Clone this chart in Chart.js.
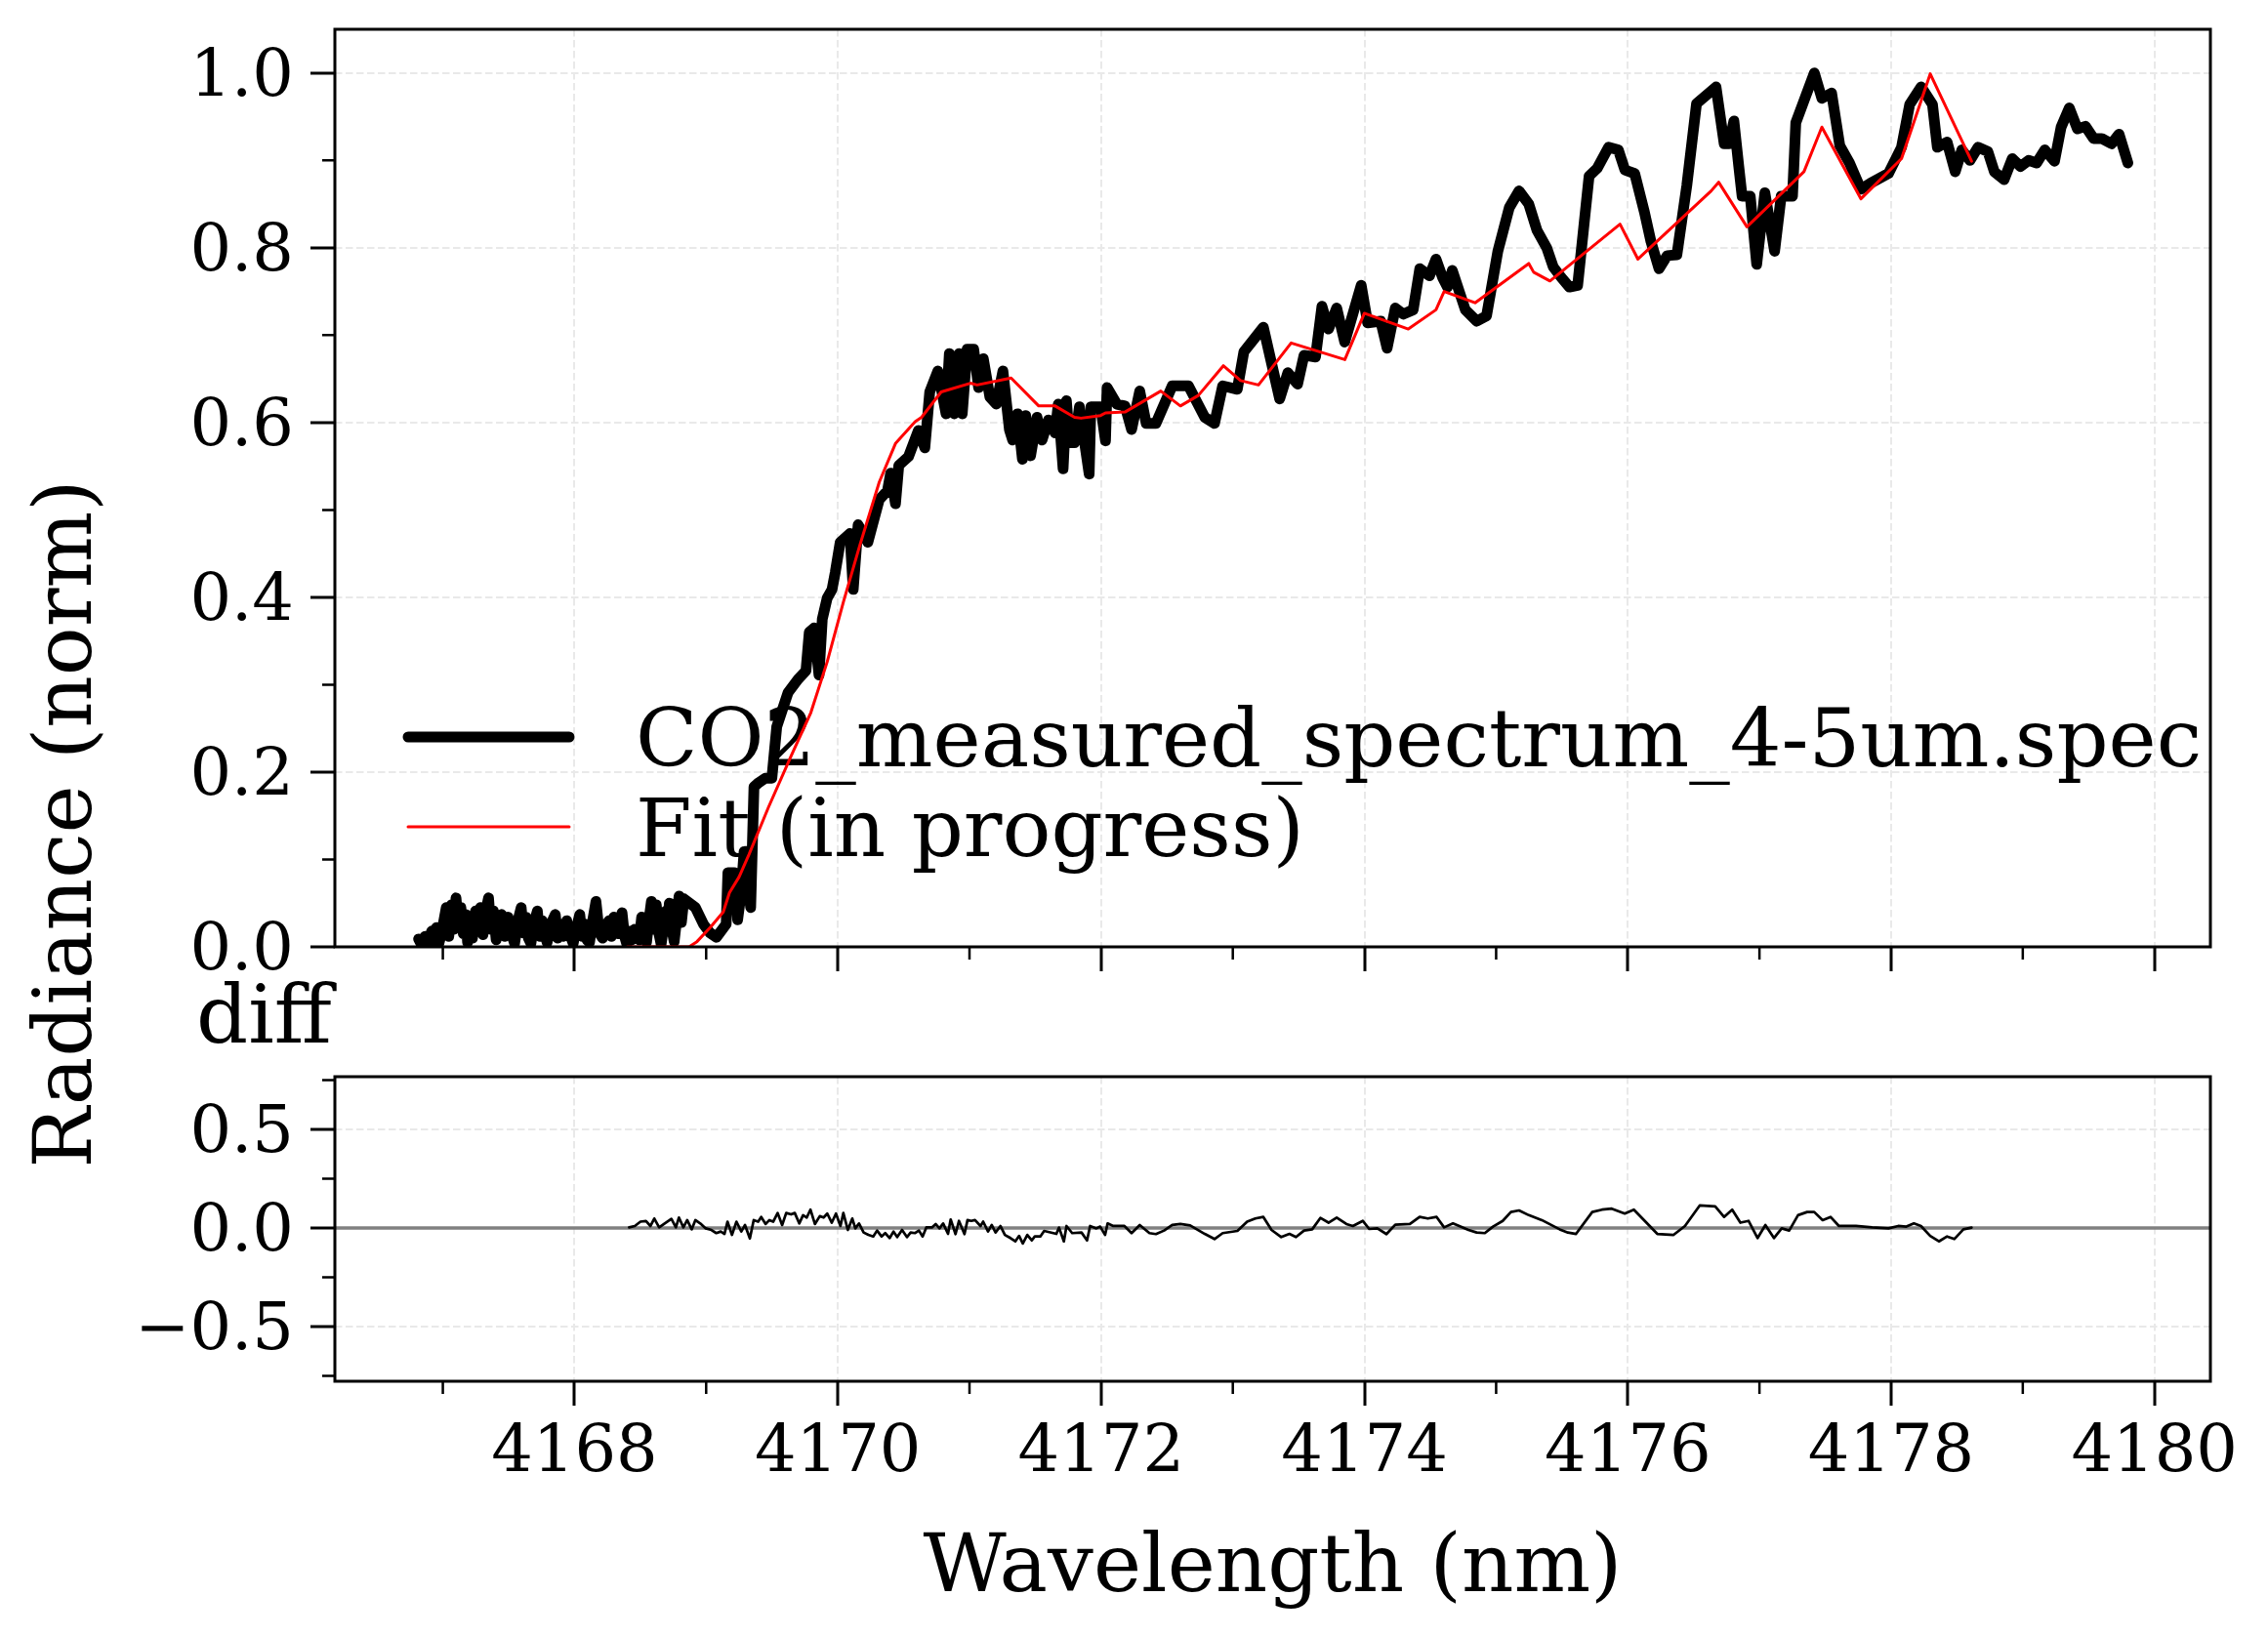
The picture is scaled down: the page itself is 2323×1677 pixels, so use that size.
<!DOCTYPE html>
<html>
<head>
<meta charset="utf-8">
<script src="https://cdn.jsdelivr.net/npm/chart.js@4.4.1/dist/chart.umd.min.js"></script>
<style>
    html, body { margin: 0; padding: 0; background: #fff; }
    #wrap { position: relative; width: 2323px; height: 1677px; }
    #wrap canvas { position: absolute; left: 0; top: 0; }
</style>
</head>
<body>
<div id="wrap">
    <canvas id="mainChart" width="2323" height="1677"></canvas>
    <canvas id="diffChart" width="2323" height="1677"></canvas>
</div>
<script>
const FONT = 'DejaVu Serif';

// measured spectrum (nm, normalised radiance)
const measuredWl = [
    4166.816, 4166.840, 4166.865, 4166.890, 4166.915, 4166.935, 4166.952, 4166.970, 4166.989, 4167.008,
    4167.026, 4167.045, 4167.065, 4167.083, 4167.100, 4167.118, 4167.137, 4167.155, 4167.174, 4167.188,
    4167.205, 4167.225, 4167.248, 4167.265, 4167.285, 4167.305, 4167.325, 4167.347, 4167.365, 4167.384,
    4167.405, 4167.425, 4167.446, 4167.470, 4167.496, 4167.520, 4167.545, 4167.570, 4167.595, 4167.612,
    4167.632, 4167.650, 4167.669, 4167.693, 4167.718, 4167.737, 4167.755, 4167.775, 4167.792, 4167.820,
    4167.854, 4167.872, 4167.891, 4167.915, 4167.941, 4167.965, 4167.990, 4168.015, 4168.040, 4168.058,
    4168.077, 4168.095, 4168.114, 4168.138, 4168.163, 4168.188, 4168.213, 4168.238, 4168.262, 4168.280,
    4168.299, 4168.330, 4168.361, 4168.380, 4168.398, 4168.418, 4168.435, 4168.455, 4168.473, 4168.492,
    4168.510, 4168.528, 4168.547, 4168.565, 4168.584, 4168.602, 4168.621, 4168.640, 4168.658, 4168.676,
    4168.695, 4168.708, 4168.720, 4168.740, 4168.757, 4168.775, 4168.794, 4168.812,
    4168.831, 4168.918, 4168.979, 4169.029, 4169.078, 4169.152, 4169.165, 4169.214, 4169.239, 4169.264,
    4169.288, 4169.338, 4169.363, 4169.400, 4169.449, 4169.499, 4169.536, 4169.622, 4169.697, 4169.758,
    4169.783, 4169.820, 4169.857, 4169.882, 4169.919, 4169.956, 4169.981, 4170.018, 4170.092, 4170.117,
    4170.154, 4170.228, 4170.315, 4170.377, 4170.401, 4170.438, 4170.463, 4170.537, 4170.612, 4170.661,
    4170.698, 4170.760, 4170.822, 4170.847, 4170.884, 4170.921, 4170.945, 4170.982, 4171.032, 4171.069,
    4171.105, 4171.155, 4171.204, 4171.254, 4171.303, 4171.328, 4171.365, 4171.402, 4171.427, 4171.464,
    4171.513, 4171.551, 4171.600, 4171.650, 4171.674, 4171.711, 4171.736, 4171.761, 4171.798, 4171.835,
    4171.909, 4171.922, 4171.996, 4172.033, 4172.045, 4172.119, 4172.181, 4172.231, 4172.293, 4172.342,
    4172.416, 4172.540, 4172.663, 4172.787, 4172.861, 4172.923, 4173.034, 4173.084, 4173.232, 4173.356,
    4173.418, 4173.492, 4173.541, 4173.628, 4173.677, 4173.727, 4173.789, 4173.850, 4173.975, 4174.024,
    4174.123, 4174.172, 4174.234, 4174.296, 4174.370,
    4174.420, 4174.494, 4174.543, 4174.593, 4174.630, 4174.667, 4174.766, 4174.853, 4174.927, 4175.013,
    4175.100, 4175.174, 4175.248, 4175.310, 4175.384, 4175.434, 4175.495, 4175.557, 4175.619, 4175.706,
    4175.768, 4175.854, 4175.928, 4175.978, 4176.052, 4176.126, 4176.176, 4176.237, 4176.299, 4176.373,
    4176.448, 4176.522, 4176.670, 4176.732, 4176.769, 4176.806, 4176.843, 4176.868, 4176.930, 4176.979,
    4177.041, 4177.115, 4177.165, 4177.251, 4177.276, 4177.350, 4177.417, 4177.474, 4177.548, 4177.610,
    4177.684,
    4177.770, 4177.844, 4177.980, 4178.079, 4178.141, 4178.228, 4178.314, 4178.351, 4178.425, 4178.487,
    4178.537, 4178.599, 4178.660, 4178.735, 4178.784, 4178.858, 4178.920, 4178.982, 4179.044, 4179.105,
    4179.167, 4179.241, 4179.291, 4179.353, 4179.415, 4179.476, 4179.538, 4179.600, 4179.674, 4179.731,
    4179.798
];
const measuredVal = [
    0.009, 0.002, 0.012, 0.003, 0.018, 0.006, 0.022, 0.004, 0.015, 0.030,
    0.045, 0.012, 0.048, 0.020, 0.056, 0.025, 0.045, 0.015, 0.037, 0.005,
    0.030, 0.010, 0.041, 0.018, 0.045, 0.014, 0.040, 0.056, 0.020, 0.041,
    0.008, 0.030, 0.037, 0.012, 0.034, 0.015, 0.004, 0.030, 0.045, 0.016,
    0.034, 0.010, 0.004, 0.028, 0.041, 0.012, 0.030, 0.014, 0.005, 0.026,
    0.037, 0.010, 0.026, 0.012, 0.030, 0.014, 0.004, 0.022, 0.037, 0.012,
    0.026, 0.008, 0.005, 0.030, 0.052, 0.016, 0.010, 0.025, 0.030, 0.012,
    0.034, 0.015, 0.039, 0.012, 0.003, 0.018, 0.008, 0.020, 0.015, 0.008,
    0.034, 0.012, 0.005, 0.030, 0.052, 0.020, 0.048, 0.016, 0.003, 0.022,
    0.041, 0.018, 0.050, 0.020, 0.006, 0.030, 0.058, 0.028,
    0.055, 0.045, 0.026, 0.016, 0.011, 0.026, 0.085, 0.085, 0.031, 0.060,
    0.109, 0.045, 0.183, 0.188, 0.193, 0.193, 0.252, 0.291, 0.306, 0.316,
    0.360, 0.365, 0.311, 0.375, 0.399, 0.409, 0.429, 0.463, 0.473, 0.409,
    0.483, 0.463, 0.512, 0.522, 0.542, 0.507, 0.551, 0.561, 0.591, 0.571,
    0.635, 0.659, 0.610, 0.679, 0.610, 0.679, 0.610, 0.684, 0.684, 0.640,
    0.673, 0.629, 0.621, 0.659, 0.592, 0.580, 0.610, 0.558, 0.608, 0.562,
    0.606, 0.580, 0.603, 0.588, 0.621, 0.547, 0.625, 0.577, 0.577, 0.618,
    0.541, 0.618, 0.618, 0.579, 0.640, 0.621, 0.619, 0.592, 0.636, 0.599,
    0.599, 0.642, 0.642, 0.606, 0.599, 0.642, 0.638, 0.681, 0.709, 0.627,
    0.657, 0.644, 0.677, 0.675, 0.733, 0.707, 0.731, 0.692, 0.757, 0.714,
    0.716, 0.685, 0.731, 0.724, 0.729,
    0.776, 0.768, 0.787, 0.766, 0.755, 0.774, 0.729, 0.716, 0.722, 0.796,
    0.846, 0.865, 0.850, 0.820, 0.800, 0.778, 0.766, 0.755, 0.757, 0.882,
    0.891, 0.915, 0.912, 0.889, 0.885, 0.841, 0.807, 0.776, 0.791, 0.792,
    0.871, 0.965, 0.984, 0.919, 0.919, 0.945, 0.893, 0.859, 0.859, 0.781,
    0.863, 0.796, 0.859, 0.859, 0.943, 0.973, 1.000, 0.971, 0.977, 0.917,
    0.897,
    0.867, 0.874, 0.885, 0.915, 0.964, 0.984, 0.964, 0.915, 0.921, 0.887,
    0.912, 0.900, 0.915, 0.910, 0.887, 0.878, 0.902, 0.893, 0.900, 0.897,
    0.912, 0.899, 0.938, 0.960, 0.936, 0.939, 0.925, 0.925, 0.919, 0.930,
    0.897
];

// fit curve
const fitWl = [
    4168.400, 4168.870, 4168.930, 4169.030, 4169.130, 4169.177, 4169.250, 4169.326, 4169.474, 4169.647,
    4169.795, 4169.919, 4170.043, 4170.166, 4170.315, 4170.438, 4170.587, 4170.636, 4170.785, 4171.007,
    4171.057, 4171.316, 4171.526, 4171.650, 4171.798, 4171.847, 4171.996, 4172.033, 4172.181, 4172.453,
    4172.602, 4172.738, 4172.928, 4173.059, 4173.195, 4173.443, 4173.851, 4173.999, 4174.333, 4174.543,
    4174.605, 4174.840, 4175.248, 4175.285, 4175.409, 4175.941, 4176.077, 4176.633, 4176.690, 4176.905,
    4177.338, 4177.474, 4177.771, 4178.079, 4178.297, 4178.611
];
const fitVal = [
    0.000, 0.000, 0.006, 0.022, 0.040, 0.062, 0.080, 0.106, 0.160, 0.219,
    0.268, 0.326, 0.395, 0.459, 0.532, 0.576, 0.601, 0.606, 0.635, 0.645,
    0.643, 0.651, 0.619, 0.619, 0.606, 0.605, 0.608, 0.611, 0.612, 0.636,
    0.619, 0.631, 0.665, 0.648, 0.643, 0.691, 0.672, 0.725, 0.707, 0.729,
    0.750, 0.737, 0.782, 0.772, 0.762, 0.827, 0.787, 0.865, 0.875, 0.824,
    0.887, 0.938, 0.856, 0.902, 0.999, 0.899
];

// residual (measured - fit)
const diffWl = [
    4168.415, 4168.458, 4168.501, 4168.543, 4168.577, 4168.606, 4168.643, 4168.685, 4168.736, 4168.770,
    4168.793, 4168.827, 4168.856, 4168.890, 4168.918, 4168.955, 4168.997, 4169.040, 4169.077, 4169.111,
    4169.139, 4169.162, 4169.196, 4169.230, 4169.267, 4169.295, 4169.332, 4169.361, 4169.395, 4169.418,
    4169.452, 4169.480, 4169.509, 4169.543, 4169.577, 4169.608, 4169.645, 4169.673, 4169.707, 4169.736,
    4169.764, 4169.792, 4169.826, 4169.863, 4169.892, 4169.920, 4169.954, 4169.986, 4170.020, 4170.042,
    4170.076, 4170.110, 4170.133, 4170.161, 4170.196, 4170.232, 4170.269, 4170.298, 4170.332, 4170.360,
    4170.394, 4170.423, 4170.451, 4170.488, 4170.525, 4170.553, 4170.587, 4170.616, 4170.644, 4170.672,
    4170.715, 4170.743, 4170.772, 4170.800, 4170.837, 4170.857, 4170.894, 4170.920, 4170.962, 4170.985,
    4171.013, 4171.042, 4171.084, 4171.104, 4171.141, 4171.169, 4171.198, 4171.235, 4171.269, 4171.311,
    4171.348, 4171.377, 4171.405, 4171.439, 4171.473, 4171.496, 4171.538, 4171.567, 4171.660, 4171.680,
    4171.717, 4171.737, 4171.780, 4171.851, 4171.893, 4171.916, 4171.964, 4171.993, 4172.030, 4172.049,
    4172.092, 4172.177,
    4172.231, 4172.293, 4172.367, 4172.416, 4172.478, 4172.540, 4172.602, 4172.676, 4172.787, 4172.861,
    4172.923, 4173.035, 4173.109, 4173.171, 4173.232, 4173.294, 4173.368, 4173.430, 4173.480, 4173.541,
    4173.603, 4173.665, 4173.727, 4173.789, 4173.863, 4173.912, 4173.987, 4174.036, 4174.098, 4174.167,
    4174.234, 4174.345, 4174.419, 4174.481, 4174.548, 4174.605, 4174.672, 4174.790, 4174.852, 4174.914,
    4174.976, 4175.050, 4175.112, 4175.174, 4175.248, 4175.347, 4175.483, 4175.545, 4175.607, 4175.730,
    4175.804, 4175.878,
    4175.977, 4176.046, 4176.224, 4176.348, 4176.434, 4176.546, 4176.664, 4176.731, 4176.793, 4176.855,
    4176.917, 4176.986, 4177.045, 4177.110, 4177.169, 4177.226, 4177.293, 4177.362, 4177.416, 4177.480,
    4177.540, 4177.604, 4177.733, 4177.856, 4177.980, 4178.054, 4178.116, 4178.173, 4178.227, 4178.297,
    4178.363, 4178.425, 4178.480, 4178.549, 4178.611
];
const diffVal = [
    0.003, 0.010, 0.032, 0.035, 0.010, 0.048, 0.003, 0.023, 0.046, 0.003,
    0.053, 0.003, 0.040, -0.007, 0.040, 0.023, -0.002, -0.010, -0.026, -0.018,
    -0.030, 0.032, -0.035, 0.032, -0.018, 0.015, -0.053, 0.040, 0.032, 0.056,
    0.020, 0.040, 0.032, 0.076, 0.015, 0.076, 0.069, 0.076, 0.023, 0.065,
    0.053, 0.093, 0.020, 0.060, 0.053, 0.073, 0.027, 0.073, 0.010, 0.076,
    -0.010, 0.048, -0.002, 0.023, -0.023, -0.035, -0.043, -0.013, -0.043, -0.026,
    -0.051, -0.018, -0.046, -0.010, -0.046, -0.023, -0.026, -0.013, -0.043, 0.003,
    0.003, 0.020, -0.002, 0.023, -0.030, 0.043, -0.031, 0.036, -0.031, 0.040,
    0.036, 0.040, 0.010, 0.032, -0.018, 0.015, -0.023, 0.010, -0.035, -0.051,
    -0.068, -0.040, -0.079, -0.035, -0.063, -0.043, -0.043, -0.015, -0.030, 0.002,
    -0.068, 0.010, -0.026, -0.023, -0.063, 0.010, -0.002, 0.007, -0.035, 0.023,
    0.010, 0.010,
    -0.026, 0.015, -0.026, -0.031, -0.013, 0.015, 0.020, 0.013, -0.030, -0.056,
    -0.026, -0.015, 0.032, 0.048, 0.056, -0.010, -0.046, -0.030, -0.046, -0.013,
    -0.007, 0.051, 0.027, 0.053, 0.020, 0.010, 0.036, -0.005, -0.002, -0.031,
    0.017, 0.020, 0.056, 0.048, 0.056, 0.003, 0.023, -0.010, -0.023, -0.026,
    0.007, 0.036, 0.081, 0.089, 0.065, 0.040, -0.007, -0.023, -0.030, 0.081,
    0.093, 0.098,
    0.073, 0.093, -0.030, -0.035, 0.010, 0.114, 0.109, 0.056, 0.093, 0.027,
    0.036, -0.051, 0.015, -0.051, -0.002, -0.013, 0.065, 0.081, 0.081, 0.040,
    0.056, 0.010, 0.010, 0.003, -0.002, 0.010, 0.007, 0.023, 0.010, -0.040,
    -0.068, -0.043, -0.056, -0.007, 0.002
];

// axes
const X_MIN = 4166.18;
const X_MAX = 4180.425;
const xMajor = [4168, 4170, 4172, 4174, 4176, 4178, 4180];
const xMinor = [4167, 4169, 4171, 4173, 4175, 4177, 4179];
const mainYMajor = [0, 0.2, 0.4, 0.6, 0.8, 1.0];
const mainYMinor = [0.1, 0.3, 0.5, 0.7, 0.9];
const diffYMajor = [-0.5, 0, 0.5];
const diffYMinor = [-0.75, -0.25, 0.25, 0.75];

const GRID = '#e9e9e9';
const TICK_FONT = { family: FONT, size: 67 };
const BIG = 83;

function toPoints(xs, ys) {
    return xs.map((x, i) => ({ x: x, y: ys[i] }));
}

function gridOpts() {
    return { color: GRID, lineWidth: 2, tickColor: '#000', tickWidth: 3, tickLength: 25 };
}

function xScale(showLabels, height) {
    return {
        type: 'linear',
        min: X_MIN,
        max: X_MAX,
        bounds: 'data',
        afterBuildTicks: s => { s.ticks = xMajor.map(v => ({ value: v })); },
        afterFit: s => { s.height = height; s.paddingLeft = 0; s.paddingRight = 0; },
        grid: gridOpts(),
        border: { display: false, dash: [7.5, 3.5] },
        ticks: {
            display: showLabels,
            autoSkip: false,
            maxRotation: 0,
            padding: 9,
            color: '#000',
            font: TICK_FONT,
            callback: v => String(v)
        }
    };
}

function yScale(min, max, major, fmt) {
    return {
        type: 'linear',
        min: min,
        max: max,
        bounds: 'data',
        afterBuildTicks: s => { s.ticks = major.map(v => ({ value: v })); },
        afterFit: s => { s.width = 343; s.paddingTop = 0; s.paddingBottom = 0; },
        grid: gridOpts(),
        border: { display: false, dash: [7.5, 3.5] },
        ticks: {
            padding: 17,
            labelOffset: 6,
            color: '#000',
            font: TICK_FONT,
            callback: fmt
        }
    };
}

// spines + minor ticks, drawn over the lines like matplotlib does
const frameTicks = {
    id: 'frameTicks',
    afterDatasetsDraw(chart, args, opts) {
        const { ctx, chartArea: a, scales: { x, y } } = chart;
        ctx.save();
        ctx.strokeStyle = '#000';
        ctx.lineWidth = 3;
        ctx.strokeRect(a.left, a.top, a.right - a.left, a.bottom - a.top);
        ctx.lineWidth = 2.5;
        ctx.beginPath();
        opts.xMinor.forEach(v => {
            const px = x.getPixelForValue(v);
            ctx.moveTo(px, a.bottom);
            ctx.lineTo(px, a.bottom + 13);
        });
        opts.yMinor.forEach(v => {
            const py = y.getPixelForValue(v);
            ctx.moveTo(a.left - 13, py);
            ctx.lineTo(a.left, py);
        });
        ctx.stroke();
        ctx.restore();
    }
};

// legend in the lower part of the top panel
const legendLines = {
    id: 'legendLines',
    beforeDatasetsDraw(chart, args, opts) {
        const ctx = chart.ctx;
        ctx.save();
        ctx.font = `${BIG}px "${FONT}"`;
        ctx.textBaseline = 'alphabetic';
        ctx.textAlign = 'left';
        opts.order.forEach((idx, row) => {
            const ds = chart.data.datasets[idx];
            const ly = opts.y + row * opts.step;
            ctx.strokeStyle = ds.borderColor;
            ctx.lineWidth = ds.borderWidth;
            ctx.lineCap = 'round';
            ctx.beginPath();
            ctx.moveTo(opts.x0, ly);
            ctx.lineTo(opts.x1, ly);
            ctx.stroke();
            ctx.fillStyle = '#000';
            ctx.fillText(ds.label, opts.textX, ly + 30);
        });
        ctx.restore();
    }
};

// free texts: y label spanning both panels, "diff", x label
const labels = {
    id: 'labels',
    afterDraw(chart) {
        const ctx = chart.ctx;
        ctx.save();
        ctx.fillStyle = '#000';
        ctx.font = `${BIG}px "${FONT}"`;
        ctx.textBaseline = 'alphabetic';

        ctx.textAlign = 'left';
        ctx.fillText('diff', 201, 1068);

        ctx.textAlign = 'center';
        const a = chart.chartArea;
        ctx.fillText('Wavelength (nm)', (a.left + a.right) / 2, 1630);

        ctx.translate(93, 844);
        ctx.rotate(-Math.PI / 2);
        ctx.fillText('Radiance (norm)', 0, 0);
        ctx.restore();
    }
};

const lineDefaults = {
    pointRadius: 0,
    tension: 0,
    borderCapStyle: 'round',
    borderJoinStyle: 'round',
    clip: 0
};

new Chart(document.getElementById('mainChart'), {
    type: 'line',
    data: {
        datasets: [
            Object.assign({
                label: 'Fit (in progress)',
                data: toPoints(fitWl, fitVal),
                borderColor: '#ff0000',
                borderWidth: 3
            }, lineDefaults),
            Object.assign({
                label: 'CO2_measured_spectrum_4-5um.spec',
                data: toPoints(measuredWl, measuredVal),
                borderColor: '#000000',
                borderWidth: 11
            }, lineDefaults)
        ]
    },
    options: {
        responsive: false,
        animation: false,
        devicePixelRatio: 1,
        layout: { padding: { left: 0, top: 30, right: 59, bottom: 677 } },
        plugins: {
            legend: { display: false },
            tooltip: { enabled: false },
            frameTicks: { xMinor: xMinor, yMinor: mainYMinor },
            legendLines: { order: [1, 0], x0: 418, x1: 583, textX: 651, y: 755, step: 92 }
        },
        scales: {
            x: xScale(false, 30),
            y: yScale(0, 1.05, mainYMajor, v => v.toFixed(1))
        }
    },
    plugins: [frameTicks, legendLines]
});

new Chart(document.getElementById('diffChart'), {
    type: 'line',
    data: {
        datasets: [
            Object.assign({
                label: 'diff',
                data: toPoints(diffWl, diffVal),
                borderColor: '#000000',
                borderWidth: 2.7
            }, lineDefaults),
            Object.assign({
                label: 'zero',
                data: [{ x: X_MIN, y: 0 }, { x: X_MAX, y: 0 }],
                borderColor: '#808080',
                borderWidth: 3.5
            }, lineDefaults)
        ]
    },
    options: {
        responsive: false,
        animation: false,
        devicePixelRatio: 1,
        layout: { padding: { left: 0, top: 1103, right: 59, bottom: 0 } },
        plugins: {
            legend: { display: false },
            tooltip: { enabled: false },
            frameTicks: { xMinor: xMinor, yMinor: diffYMinor }
        },
        scales: {
            x: xScale(true, 262),
            y: yScale(-0.777, 0.767, diffYMajor,
                v => (v < 0 ? '\u2212' : '') + Math.abs(v).toFixed(1))
        }
    },
    plugins: [frameTicks, labels]
});
</script>
</body>
</html>
